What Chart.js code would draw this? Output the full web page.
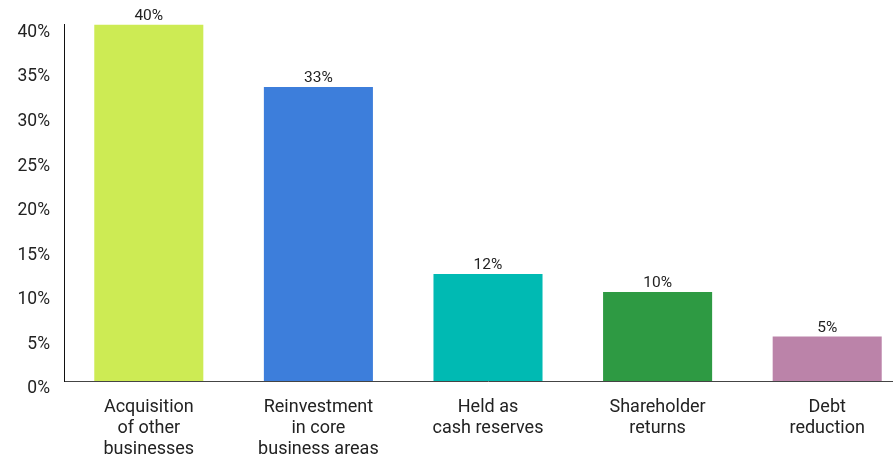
<!DOCTYPE html>
<html>
<head>
<meta charset="utf-8">
<script src="https://cdn.jsdelivr.net/npm/chart.js@4"></script>
<style>
  html, body { margin: 0; padding: 0; background: #fff; overflow: hidden; }
  #wrap { width: 912px; height: 459px; }
</style>
</head>
<body>
<div id="wrap"><canvas id="allocChart" width="912" height="459"></canvas></div>
<script>
// categories and shares (%)
const categories = [
    ['Acquisition', 'of other', 'businesses'],
    ['Reinvestment', 'in core', 'business areas'],
    ['Held as', 'cash reserves'],
    ['Shareholder', 'returns'],
    ['Debt', 'reduction']
];
const shares = [40, 33, 12, 10, 5];
const barColors = ['#cdeb54', '#3d7edb', '#00bab3', '#2e9a43', '#bb83a9'];

// value labels above each bar
const valueLabels = {
    id: 'valueLabels',
    afterDatasetsDraw(chart) {
        const ctx = chart.ctx;
        const meta = chart.getDatasetMeta(0);
        ctx.save();
        ctx.font = '15.5px Roboto';
        ctx.fillStyle = '#222';
        ctx.textAlign = 'center';
        ctx.textBaseline = 'bottom';
        meta.data.forEach((bar, i) => {
            ctx.fillText(shares[i] + '%', bar.x, bar.y - 1);
        });
        ctx.restore();
    }
};

new Chart(document.getElementById('allocChart'), {
    type: 'bar',
    data: {
        labels: categories,
        datasets: [{
            data: shares,
            backgroundColor: barColors,
            barPercentage: 0.643,
            categoryPercentage: 1
        }]
    },
    options: {
        responsive: false,
        animation: false,
        layout: { padding: { top: 24, left: 0, right: 0, bottom: 0 } },
        plugins: {
            legend: { display: false },
            tooltip: { enabled: false }
        },
        scales: {
            x: {
                grid: { display: false, drawTicks: false },
                border: { display: true, color: '#444', width: 1 },
                ticks: {
                    font: { family: 'Roboto', size: 18, lineHeight: 1.17 },
                    color: '#222',
                    padding: 16,
                    maxRotation: 0,
                    autoSkip: false
                },
                afterFit(scale) { scale.height = 78; }
            },
            y: {
                min: 0,
                max: 40,
                grid: { display: false, drawTicks: false },
                border: { display: true, color: '#111', width: 1 },
                ticks: {
                    stepSize: 5,
                    font: { family: 'Roboto', size: 17.5 },
                    color: '#222',
                    padding: 14,
                    labelOffset: 8,
                    callback: v => v + '%'
                },
                afterFit(scale) { scale.width = 64; }
            }
        }
    },
    plugins: [valueLabels]
});
</script>
</body>
</html>
